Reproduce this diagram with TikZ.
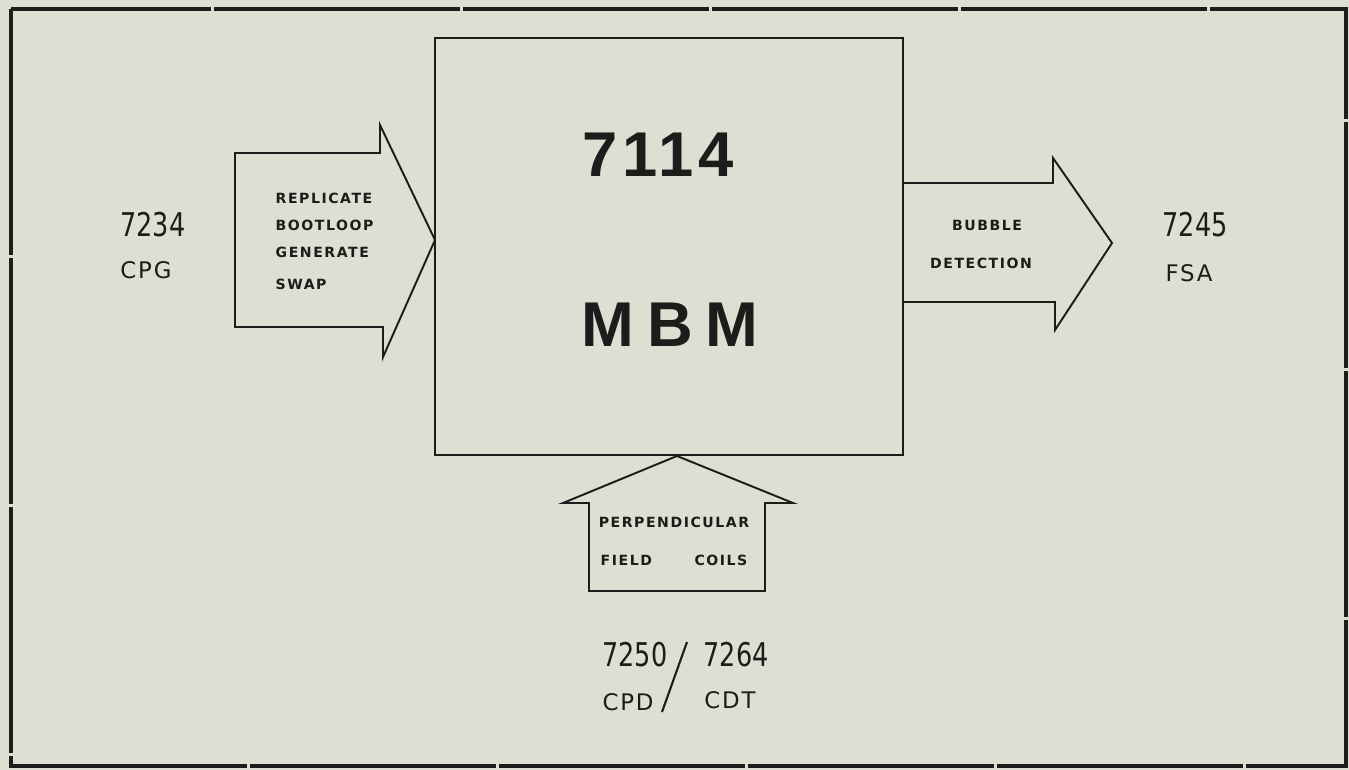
\documentclass[tikz,border=0pt]{standalone}
\usepackage{fontspec}
\setmainfont{DejaVu Sans}
\newfontfamily\plotfont{DejaVu Sans}[FakeStretch=0.78]
\newfontfamily\plotwide{DejaVu Sans}[LetterSpace=8]
\newfontfamily\cmdfont{DejaVu Sans Bold}[LetterSpace=11]
\newfontfamily\chipfont{Liberation Sans Bold}[LetterSpace=7]
\newfontfamily\chipwide{Liberation Sans Bold}[LetterSpace=20]
\usetikzlibrary{positioning, calc}
\definecolor{paper}{RGB}{221,223,210}
\definecolor{ink}{RGB}{28,28,26}

\begin{document}
\begin{tikzpicture}[
  x=0.01cm, y=-0.01cm,
  chip/.style={draw=ink, line width=0.6pt, minimum width=4.68cm, minimum height=4.17cm, inner sep=0pt},
  chipnum/.style={font=\chipfont\fontsize{18}{20}\selectfont, text=ink, inner sep=0pt},
  chipname/.style={font=\chipwide\fontsize{18}{20}\selectfont, text=ink, inner sep=0pt},
  blockarrow/.style={draw=ink, line width=0.55pt, line join=miter},
  cmd/.style={font=\cmdfont\fontsize{4.0}{5}\selectfont, text=ink, inner sep=0pt},
  partnum/.style={font=\plotfont\fontsize{9.3}{11}\selectfont, text=ink, inner sep=0pt},
  partname/.style={font=\plotwide\fontsize{6.5}{8}\selectfont, text=ink, inner sep=0pt}
]

% Page and frame
\fill[paper] (0,0) rectangle (1349,770);
\useasboundingbox (0,0) rectangle (1349,770);
\draw[ink, line width=1.2pt, dash pattern=on 70pt off 0.8pt] (11,9) rectangle (1346,766);

% === Magnetic bubble memory ===
\node[chip] (mbm) at (669,246.5) {};
\node[chipnum] (chipno) at (658,155) {7114};
\node[chipname] (chipid) at (670,325) {MBM};

% === Input from CPG ===
\coordinate (cpgtip) at (435,240);
\draw[blockarrow] (235,153) -- (380,153) -- (380,125) -- (cpgtip)
  -- (383,357) -- (383,327) -- (235,327) -- cycle;

\node[cmd, anchor=west] (rep) at (275,198) {REPLICATE};
\node[cmd, anchor=west] (boot) at (275,225) {BOOTLOOP};
\node[cmd, anchor=west] (gen) at (275,252) {GENERATE};
\node[cmd, anchor=west] (swap) at (275,284) {SWAP};

\node[partnum] (cpgno) at (153,225) {7234};
\node[partname] (cpg) at (146,270) {CPG};

% === Output to FSA ===
\coordinate (fsatip) at (1112,243);
\draw[blockarrow] (mbm.east |- 0,183) -- (1053,183) -- (1053,158) -- (fsatip)
  -- (1055,330) -- (1055,302) -- (mbm.east |- 0,302);

\node[cmd] (bubble) at (987,225) {BUBBLE};
\node[cmd] (detect) at (981,263) {DETECTION};

\node[partnum] (fsano) at (1195,225) {7245};
\node[partname] (fsa) at (1189,273) {FSA};

% === Field coils ===
\coordinate (coiltip) at (677,456);
\draw[blockarrow] (589,591) -- (589,503) -- (563,503) -- (coiltip)
  -- (793,503) -- (765,503) -- (765,591) -- cycle;

\node[cmd] (perp) at (674,522) {PERPENDICULAR};
\node[cmd, anchor=west] (field) at (600,560) {FIELD};
\node[cmd, anchor=east] (coils) at (748,560) {COILS};

\node[partnum] (cpdno) at (635,655) {7250};
\node[partnum] (cdtno) at (736,655) {7264};
\node[partname] (cpd) at (628,702) {CPD};
\node[partname] (cdt) at (730,700) {CDT};
\coordinate (slashtop) at (687,642);
\coordinate (slashbot) at (662,712);
\draw[ink, line width=0.6pt] (slashtop) -- (slashbot);

\end{tikzpicture}
\end{document}
